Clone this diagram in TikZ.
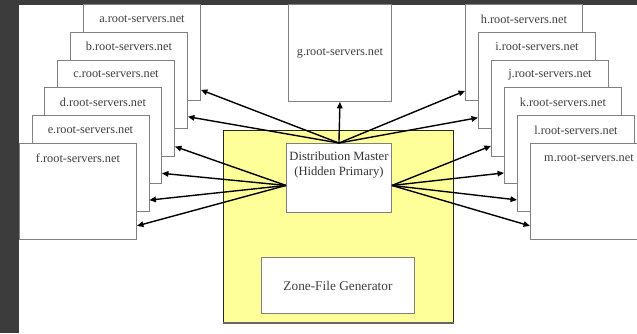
\documentclass[tikz,border=0pt]{standalone}
\usepackage{fontspec}
\setmainfont{Liberation Serif}
\usetikzlibrary{arrows.meta,calc}
\definecolor{darkbg}{HTML}{3C3C3C}
\definecolor{paleyellow}{HTML}{FFFF99}
\definecolor{boxgray}{HTML}{808080}
\begin{document}
\begin{tikzpicture}[x=1pt,y=-1pt,
  srv/.style={draw=boxgray, fill=white, line width=0.9pt, minimum width=117pt,
    minimum height=96pt, anchor=north west, inner sep=0pt,
    font=\fontsize{12.3}{13}\selectfont, text=black!75},
  lbl/.style={font=\fontsize{12.3}{13}\selectfont, text=black!75, anchor=center,
    yshift=-15pt, inner sep=0pt},
  conn/.style={line width=1.4pt, draw=black, -{Triangle[length=6.5pt,width=5.5pt]}}
]
\useasboundingbox (0,0) rectangle (637,333);
\fill[darkbg] (0,0) rectangle (637,333);
\fill[white] (19,4.5) rectangle (637,333);
\begin{scope}
\clip (19,4.5) rectangle (637,333);
% left stack
\node[srv, label={[lbl]north:a.root-servers.net}] (a) at (83,4) {};
\node[srv, label={[lbl]north:b.root-servers.net}] (b) at (70,31.8) {};
\node[srv, label={[lbl]north:c.root-servers.net}] (c) at (57,59.6) {};
\node[srv, label={[lbl]north:d.root-servers.net}] (d) at (44,87.4) {};
\node[srv, label={[lbl]north:e.root-servers.net}] (e) at (31.5,115.2) {};
\node[srv, label={[lbl]north:f.root-servers.net}] (f) at (19,143) {};
% right stack
\node[srv, label={[lbl]north:h.root-servers.net}] (h) at (465,4) {};
\node[srv, label={[lbl]north:i.root-servers.net}] (i) at (478,31.8) {};
\node[srv, label={[lbl]north:j.root-servers.net}] (j) at (491,59.6) {};
\node[srv, label={[lbl]north:k.root-servers.net}] (k) at (504,87.4) {};
\node[srv, label={[lbl]north:l.root-servers.net}] (l) at (517,115.2) {};
\node[srv, label={[lbl]north:m.root-servers.net}] (m) at (530,143) {};
% top centre
\node[srv, minimum width=103pt, minimum height=97pt] (g) at (288,4) {g.root-servers.net};
% distribution box
\node[draw=black!85, fill=paleyellow, line width=1.2pt, minimum width=230pt,
  minimum height=193pt, anchor=north west] (yb) at (223,130) {};
\draw[black!60, line width=2pt] ([yshift=1pt]yb.south west) -- ([yshift=1pt]yb.south east);
\node[draw=boxgray, fill=white, line width=0.9pt, minimum width=105pt,
  minimum height=69pt, anchor=north west] (dm) at (286,143) {};
\node[align=center, font=\fontsize{12.6}{15}\selectfont, text=black!80, inner sep=0pt]
  (dmtext) at ([yshift=-22pt]dm.north) {Distribution Master\\(Hidden Primary)};
\node[draw=boxgray, fill=white, line width=0.9pt, minimum width=153pt,
  minimum height=56pt, anchor=north west, font=\fontsize{13.3}{15}\selectfont,
  text=black!75] (zone) at (261,257) {Zone-File Generator};
% connectors
\draw[conn] (dm.north) -- (g.south);
\draw[conn] (dm.north) -- ([yshift=11pt]a.south east);
\draw[conn] (dm.north) -- ([yshift=12pt]b.south east);
\draw[conn] ([yshift=-7.5pt]dm.west) -- ([yshift=10pt]c.south east);
\draw[conn] ([yshift=-7.5pt]dm.west) -- ([yshift=11pt]d.south east);
\draw[conn] ([yshift=-7.5pt]dm.west) -- ([yshift=12pt]e.south east);
\draw[conn] ([yshift=-7.5pt]dm.west) -- ([yshift=14pt]f.south east);
\draw[conn] (dm.north) -- ([yshift=10pt]h.south west);
\draw[conn] (dm.north) -- ([yshift=11pt]i.south west);
\draw[conn] ([yshift=-7.5pt]dm.east) -- ([yshift=10.6pt]j.south west);
\draw[conn] ([yshift=-7.5pt]dm.east) -- ([yshift=11.4pt]k.south west);
\draw[conn] ([yshift=-7.5pt]dm.east) -- ([yshift=12.2pt]l.south west);
\draw[conn] ([yshift=-7.5pt]dm.east) -- ([yshift=14pt]m.south west);
\end{scope}
\end{tikzpicture}
\end{document}
